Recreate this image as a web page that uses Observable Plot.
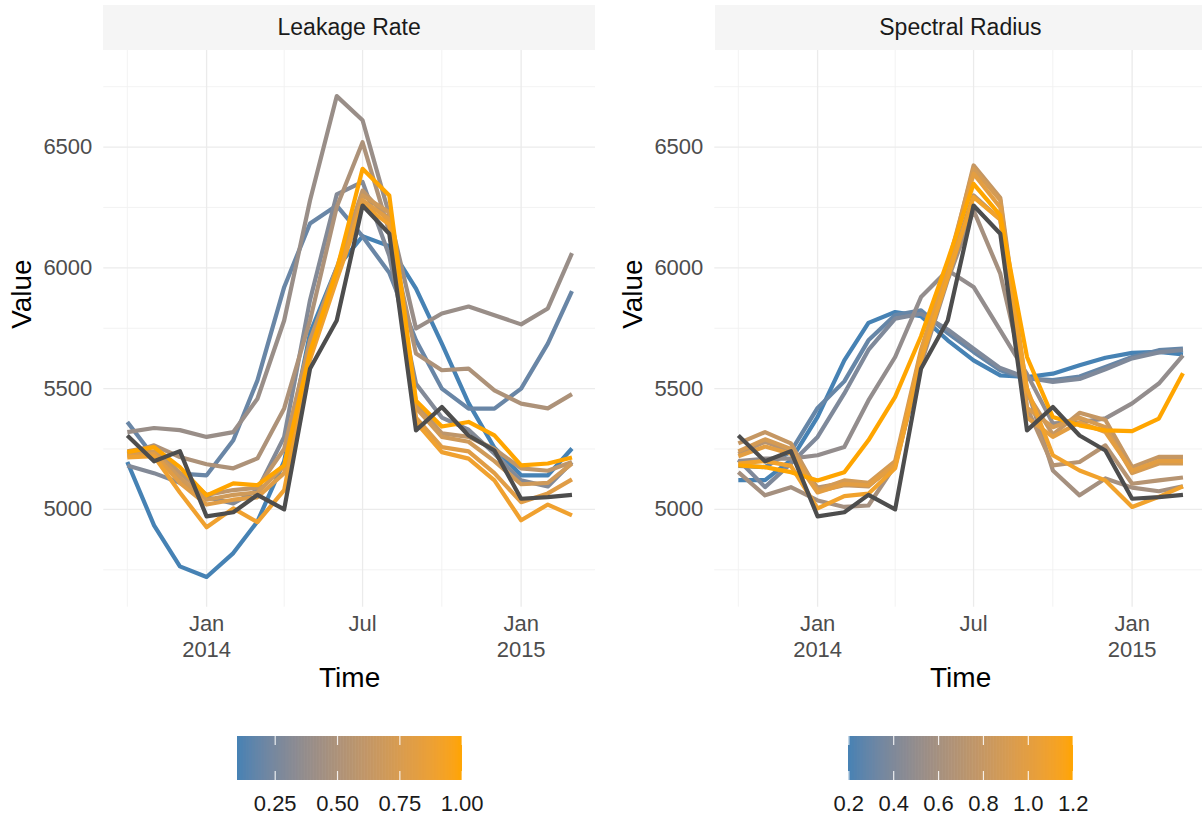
<!DOCTYPE html>
<html><head><meta charset="utf-8">
<script src="https://cdn.jsdelivr.net/npm/d3@7"></script>
<script src="https://cdn.jsdelivr.net/npm/@observablehq/plot@0.6"></script>
<style>
body{margin:0;background:#fff;overflow:hidden;font-family:"Liberation Sans",Arial,Helvetica,sans-serif;}
#row{display:flex;width:1222.6px;height:815px;}
.col{width:611.3px;height:815px;flex:none;position:relative;}
.strip{position:absolute;top:5px;left:103.3px;width:491.7px;height:45px;background:#f5f5f5;color:#1a1a1a;font-size:23px;display:flex;align-items:center;justify-content:center;}
.col svg{display:block;}
.plotwrap{position:absolute;top:50px;left:0;}
.legwrap{position:absolute;top:700px;left:0;}
.series path{stroke-width:4.2px;}
</style></head><body>
<div id="row"><div class="col" id="c1"></div><div class="col" id="c2"></div></div>
<script>
// ---- data ----
const months = ["2013-10-01","2013-11-01","2013-12-01","2014-01-01","2014-02-01","2014-03-01","2014-04-01","2014-05-01","2014-06-01","2014-07-01","2014-08-01","2014-09-01","2014-10-01","2014-11-01","2014-12-01","2015-01-01","2015-02-01","2015-03-01"];
const actual = [5306,5199,5241,4971,4988,5060,5000,5582,5782,6258,6141,5327,5424,5306,5244,5044,5051,5060];

const leakageRates = [0.1,0.2,0.3,0.4,0.5,0.6,0.7,0.8,0.9,1.0];
const lr01 = [5196,4934,4764,4720,4819,4950,5200,5730,6000,6131,6090,5914,5686,5440,5255,5141,5141,5252];
const lr02 = [5362,5217,5148,5141,5286,5534,5920,6184,6258,6130,5980,5700,5500,5417,5417,5500,5686,5904];
const lr03 = [5182,5150,5110,5050,5025,5080,5300,5866,6304,6356,6050,5520,5380,5330,5230,5120,5095,5195];
const lr04 = [5320,5337,5328,5300,5320,5458,5782,6279,6711,6611,6220,5749,5811,5840,5804,5766,5832,6061];
const lr05 = [5230,5265,5217,5187,5170,5211,5418,5782,6252,6520,6150,5645,5576,5583,5493,5438,5418,5477];
const lr06 = [5240,5260,5150,5060,5080,5090,5250,5700,6000,6320,6200,5440,5315,5300,5250,5170,5160,5196];
const lr07 = [5225,5240,5130,5040,5060,5070,5180,5660,5980,6300,6230,5420,5300,5280,5200,5104,5110,5190];
const lr08 = [5220,5230,5110,5020,5040,5050,5150,5640,5960,6280,6200,5380,5258,5240,5150,5030,5066,5124];
const lr09 = [5215,5220,5070,4926,5004,4947,5080,5620,5950,6260,6180,5360,5237,5210,5120,4955,5020,4975];
const lr10 = [5237,5258,5175,5058,5108,5100,5182,5650,5990,6410,6300,5450,5343,5362,5306,5182,5190,5215];
const leakageSeries = [lr01,lr02,lr03,lr04,lr05,lr06,lr07,lr08,lr09,lr10];

const spectralRadii = [0.2,0.3,0.4,0.5,0.6,0.7,0.8,0.9,1.0,1.1,1.2];
const sr02 = [5121,5121,5204,5383,5617,5772,5817,5800,5700,5617,5555,5548,5562,5597,5628,5648,5652,5642];
const sr03 = [5180,5175,5240,5420,5530,5700,5805,5824,5730,5652,5576,5541,5535,5550,5590,5631,5659,5666];
const sr04 = [5205,5092,5190,5300,5480,5660,5790,5810,5745,5665,5585,5545,5528,5540,5580,5625,5650,5660];
const sr05 = [5200,5210,5210,5224,5258,5451,5631,5879,5990,5921,5741,5560,5356,5360,5377,5439,5521,5638];
const sr06 = [5154,5058,5092,5037,5010,5016,5182,5600,5950,6238,5976,5500,5161,5058,5128,5090,5075,5095];
const sr07 = [5230,5280,5240,5090,5110,5100,5180,5620,5980,6300,6200,5420,5182,5196,5265,5106,5120,5132];
const sr08 = [5273,5320,5273,5075,5100,5095,5190,5640,5990,6424,6290,5480,5310,5400,5370,5175,5217,5217];
const sr09 = [5240,5290,5250,5080,5120,5110,5200,5660,6010,6410,6280,5420,5340,5380,5340,5150,5190,5190];
const sr10 = [5220,5260,5230,5070,5105,5100,5185,5650,6000,6390,6250,5380,5300,5360,5320,5160,5200,5200];
const sr11 = [5190,5200,5180,5004,5055,5065,5170,5620,5960,6293,6200,5500,5224,5161,5120,5010,5052,5095];
const sr12 = [5182,5175,5154,5120,5154,5286,5466,5717,6031,6348,6217,5631,5382,5348,5327,5324,5376,5564];
const spectralSeries = [sr02,sr03,sr04,sr05,sr06,sr07,sr08,sr09,sr10,sr11,sr12];

const yMajor = [5000,5500,6000,6500];
const yMinor = [4750,5250,5750,6250,6750];
const xMajor = ["2014-01-01","2014-07-01","2015-01-01"];
const xMajorLabels = ["Jan\n2014","Jul","Jan\n2015"];
const xMinor = ["2013-10-01","2014-04-01","2014-10-01"];
const leakageTicks = [0.25,0.5,0.75,1.0];
const leakageTickLabels = ["0.25","0.50","0.75","1.00"];
const spectralTicks = [0.2,0.4,0.6,0.8,1.0,1.2];
const spectralTickLabels = ["0.2","0.4","0.6","0.8","1.0","1.2"];

// ---- layout ----
const W = 611.3, ML = 103.3, MR = W - 595;
const FONT = '"Liberation Sans",Arial,Helvetica,sans-serif';
const DAY = 864e5;
const xDomain = [new Date(Date.UTC(2013,9,1) - 27.3*DAY), new Date(Date.UTC(2015,2,1) + 27.3*DAY)];
const yDomain = [4595, 6900];
const actualRows = months.map((m,j) => ({date: new Date(m), value: actual[j]}));

function colorScale(domain){
  return {type:"linear", domain, range:["steelblue","orange"], interpolate:"lab"};
}

function mainPlot(params, series, cdomain){
  const rows = params.flatMap((p,i) => months.map((m,j) => ({date:new Date(m), param:p, value:series[i][j]})));
  const xt = xMajor.map((d,i) => ({date:new Date(d), label:xMajorLabels[i]}));
  return Plot.plot({
    width: W, height: 650, marginLeft: ML, marginRight: MR, marginTop: 0, marginBottom: 93.3,
    x: {type:"utc", domain: xDomain, axis: null},
    y: {domain: yDomain, axis: null},
    color: colorScale(cdomain),
    style: {fontFamily: FONT, background:"transparent", overflow:"visible"},
    marks: [
      Plot.ruleY(yMinor, {y: d=>d, stroke:"#f0f0f0", strokeWidth:0.9}),
      Plot.ruleX(xMinor, {x: d=>new Date(d), stroke:"#f0f0f0", strokeWidth:0.9}),
      Plot.ruleY(yMajor, {y: d=>d, stroke:"#ebebeb", strokeWidth:1.3}),
      Plot.ruleX(xMajor, {x: d=>new Date(d), stroke:"#ebebeb", strokeWidth:1.3}),
      Plot.line(rows, {x:"date", y:"value", z:"param", stroke:"param", strokeWidth:4.2, strokeLinejoin:"round", strokeLinecap:"butt", className:"series"}),
      Plot.line(actualRows, {x:"date", y:"value", stroke:"#4d4d4d", strokeWidth:4.2, strokeLinejoin:"round", strokeLinecap:"butt", className:"series"}),
      Plot.text(yMajor, {y:d=>d, text:d=>String(d), frameAnchor:"left", textAnchor:"end", lineAnchor:"middle", dx:-11.5, fontSize:22, fill:"#4d4d4d"}),
      Plot.text(xt, {x:"date", text:"label", frameAnchor:"bottom", lineAnchor:"top", dy:5.5, lineHeight:1.17, fontSize:22, fill:"#4d4d4d"}),
      Plot.text(["Value"], {text:d=>d, frameAnchor:"left", lineAnchor:"middle", dx:-81.3, rotate:-90, fontSize:28, fill:"#000"}),
      Plot.text(["Time"], {text:d=>d, frameAnchor:"bottom", lineAnchor:"middle", dy:71, fontSize:28, fill:"#000"})
    ]
  });
}

function legendPlot(cdomain, ticks, labels){
  const n = 150;
  const span = cdomain[1]-cdomain[0];
  const bins = d3.range(n).map(i => ({x1: cdomain[0]+span*i/n, x2: cdomain[0]+span*(i+1)/n}));
  return Plot.plot({
    width: W, height: 115, marginLeft: 237.3, marginRight: W-461.7, marginTop: 36, marginBottom: 35,
    x: {domain: cdomain, axis: null},
    color: colorScale(cdomain),
    style: {fontFamily: FONT, background:"transparent", overflow:"visible"},
    marks: [
      Plot.rect(bins, {x1:"x1", x2:"x2", fill: d=>(d.x1+d.x2)/2, insetLeft:-0.3, insetRight:-0.3}),
      Plot.tickX(ticks, {x:d=>d, stroke:"white", strokeWidth:1.2, strokeOpacity:0.85, insetBottom:35}),
      Plot.tickX(ticks, {x:d=>d, stroke:"white", strokeWidth:1.2, strokeOpacity:0.85, insetTop:35}),
      Plot.text(ticks, {x:d=>d, text:(d,i)=>labels[i], frameAnchor:"bottom", lineAnchor:"middle", dy:23, fontSize:22, fill:"#1a1a1a"})
    ]
  });
}

function build(el, title, params, series, cdomain, ticks, labels){
  const strip = document.createElement("div");
  strip.className = "strip"; strip.textContent = title;
  const pw = document.createElement("div"); pw.className = "plotwrap";
  pw.appendChild(mainPlot(params, series, cdomain));
  const lw = document.createElement("div"); lw.className = "legwrap";
  lw.appendChild(legendPlot(cdomain, ticks, labels));
  el.appendChild(strip); el.appendChild(pw); el.appendChild(lw);
}

build(document.getElementById("c1"), "Leakage Rate", leakageRates, leakageSeries, [0.1,1.0], leakageTicks, leakageTickLabels);
build(document.getElementById("c2"), "Spectral Radius", spectralRadii, spectralSeries, [0.2,1.2], spectralTicks, spectralTickLabels);
</script></body></html>
